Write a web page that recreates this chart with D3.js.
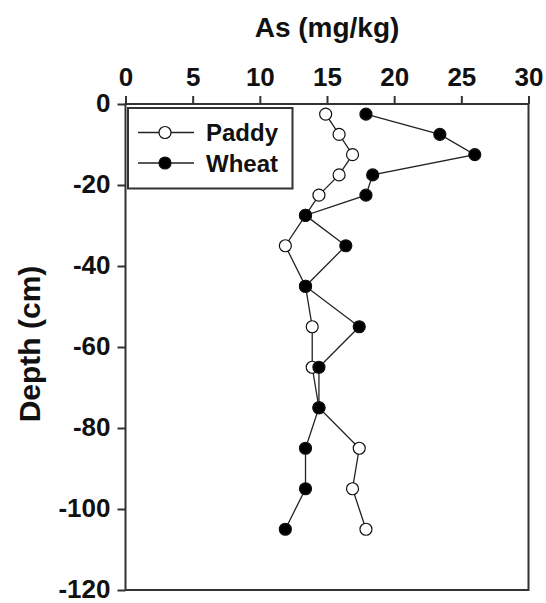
<!DOCTYPE html>
<html>
<head>
<meta charset="utf-8">
<script src="https://cdn.jsdelivr.net/npm/d3@7"></script>
<style>
  body { margin: 0; background: #fff; }
  text { font-family: "Liberation Sans", Arial, sans-serif; font-weight: bold; fill: #111; }
</style>
</head>
<body>
<script>
'use strict';

// depths (cm) and arsenic values
const paddyDepth = [-2.5, -7.5, -12.5, -17.5, -22.5, -27.5, -35, -45, -55, -65, -75, -85, -95, -105];
const paddyAs = [14.9, 15.9, 16.9, 15.9, 14.4, 13.4, 11.9, 13.4, 13.9, 13.9, 14.4, 17.4, 16.9, 17.9];
const wheatDepth = [-2.5, -7.5, -12.5, -17.5, -22.5, -27.5, -35, -45, -55, -65, -75, -85, -95, -105];
const wheatAs = [17.9, 23.4, 26.0, 18.4, 17.9, 13.4, 16.4, 13.4, 17.4, 14.4, 14.4, 13.4, 13.4, 11.9];
const xTicks = [0, 5, 10, 15, 20, 25, 30];
const yTicks = [0, -20, -40, -60, -80, -100, -120];
const seriesNames = ['Paddy', 'Wheat'];

(function() {
  let width = 546, height = 603;
  let plot = {left: 125.5, right: 528.5, top: 104, bottom: 590};

  let svg = d3.select('body')
    .append('svg')
    .attr('width', width)
    .attr('height', height);

  let xScale = d3.scaleLinear().domain([0, 30]).range([plot.left, plot.right]);
  let yScale = d3.scaleLinear().domain([0, -120]).range([plot.top, plot.bottom]);

  // plain hyphen for negatives, like the original figure
  let fmt = (d) => String(d);

  // top axis
  let xAxis = d3.axisTop(xScale).tickValues(xTicks).tickFormat(fmt).tickSize(8).tickSizeOuter(0).tickPadding(10);
  let gx = svg.append('g')
    .attr('transform', 'translate(0,' + plot.top + ')')
    .call(xAxis);
  gx.selectAll('text').style('font-size', '26px').attr('fill', '#111');

  // left axis
  let yAxis = d3.axisLeft(yScale).tickValues(yTicks).tickFormat(fmt).tickSize(8).tickSizeOuter(0).tickPadding(7);
  let gy = svg.append('g')
    .attr('transform', 'translate(' + plot.left + ',0)')
    .call(yAxis);
  gy.selectAll('text').style('font-size', '26px').attr('fill', '#111').attr('dy', '0.28em');

  svg.selectAll('.domain').remove();
  svg.selectAll('.tick line').attr('stroke', '#333').attr('stroke-width', 2);

  // frame
  svg.append('rect')
    .attr('x', plot.left)
    .attr('y', plot.top)
    .attr('width', plot.right - plot.left)
    .attr('height', plot.bottom - plot.top)
    .attr('fill', 'none')
    .attr('stroke', '#333')
    .attr('stroke-width', 2);

  // axis titles
  svg.append('text')
    .attr('x', (plot.left + plot.right) / 2)
    .attr('y', 37)
    .attr('text-anchor', 'middle')
    .style('font-size', '28px')
    .text('As (mg/kg)');

  svg.append('text')
    .attr('transform', 'translate(40, 344)rotate(-90)')
    .attr('text-anchor', 'middle')
    .style('font-size', '30px')
    .text('Depth (cm)');

  let line = d3.line()
    .x((d) => xScale(d[0]))
    .y((d) => yScale(d[1]));

  let series = [
    {name: seriesNames[0], pts: paddyAs.map((v, i) => [v, paddyDepth[i]]), fill: '#fff'},
    {name: seriesNames[1], pts: wheatAs.map((v, i) => [v, wheatDepth[i]]), fill: '#000'}
  ];

  series.forEach((s) => {
    svg.append('path')
      .datum(s.pts)
      .attr('fill', 'none')
      .attr('stroke', '#222')
      .attr('stroke-width', 1.3)
      .attr('d', line);
  });

  series.forEach((s) => {
    svg.selectAll('.dot-' + s.name)
      .data(s.pts)
      .enter()
      .append('circle')
      .attr('cx', (d) => xScale(d[0]))
      .attr('cy', (d) => yScale(d[1]))
      .attr('r', 6)
      .attr('fill', s.fill)
      .attr('stroke', '#111')
      .attr('stroke-width', 1.2);
  });

  // legend
  let legend = svg.append('g');
  legend.append('rect')
    .attr('x', 128)
    .attr('y', 108)
    .attr('width', 164.5)
    .attr('height', 80.5)
    .attr('fill', '#fff')
    .attr('stroke', '#333')
    .attr('stroke-width', 2);

  series.forEach((s, i) => {
    let y = 132.5 + i * 30.5;
    legend.append('line')
      .attr('x1', 138).attr('x2', 194)
      .attr('y1', y).attr('y2', y)
      .attr('stroke', '#222')
      .attr('stroke-width', 1.3);
    legend.append('circle')
      .attr('cx', 165).attr('cy', y)
      .attr('r', 6)
      .attr('fill', s.fill)
      .attr('stroke', '#111')
      .attr('stroke-width', 1.2);
    legend.append('text')
      .attr('x', 206)
      .attr('y', y + 8.5)
      .style('font-size', '24px')
      .text(s.name);
  });
})();
</script>
</body>
</html>
